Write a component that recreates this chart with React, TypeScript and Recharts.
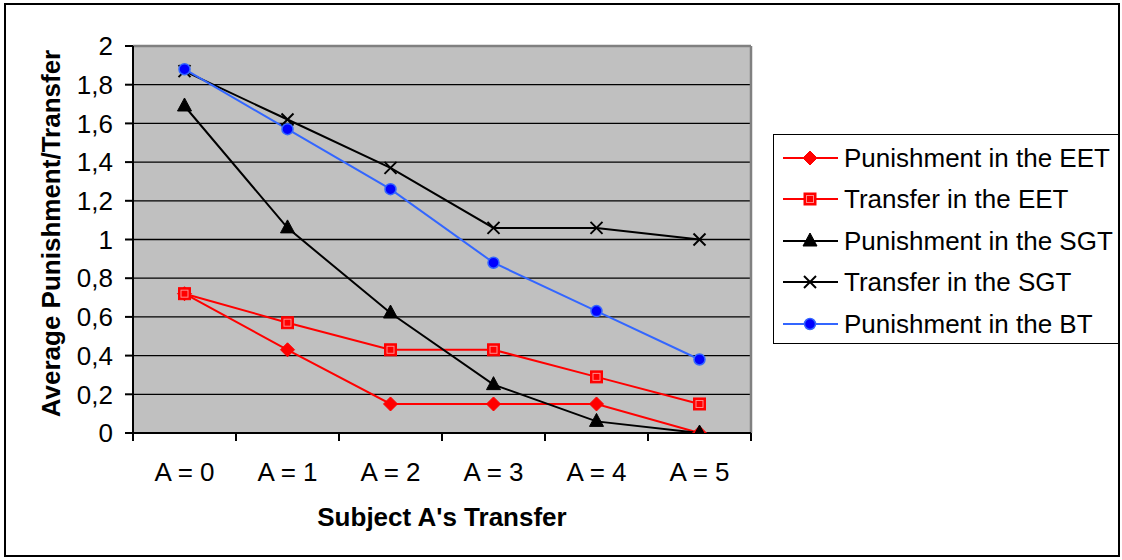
import React from 'react';
import { LineChart, Line, XAxis, YAxis, CartesianGrid, Legend, ReferenceLine, Label } from 'recharts';

const categories = ['A = 0', 'A = 1', 'A = 2', 'A = 3', 'A = 4', 'A = 5'];
const punishmentEET = [0.72, 0.43, 0.15, 0.15, 0.15, 0];
const transferEET = [0.72, 0.57, 0.43, 0.43, 0.29, 0.15];
const punishmentSGT = [1.69, 1.06, 0.62, 0.25, 0.06, 0];
const transferSGT = [1.87, 1.62, 1.37, 1.06, 1.06, 1.0];
const punishmentBT = [1.88, 1.57, 1.26, 0.88, 0.63, 0.38];
const yTicks = [0, 0.2, 0.4, 0.6, 0.8, 1, 1.2, 1.4, 1.6, 1.8, 2];
const edgeTicks = [0, 1, 2, 3, 4, 5, 6];

const series = [
  { key: 'pEET', name: 'Punishment in the EET', values: punishmentEET, color: '#FF0000', marker: 'diamond' },
  { key: 'tEET', name: 'Transfer in the EET', values: transferEET, color: '#FF0000', marker: 'square' },
  { key: 'pSGT', name: 'Punishment in the SGT', values: punishmentSGT, color: '#000000', marker: 'triangle' },
  { key: 'tSGT', name: 'Transfer in the SGT', values: transferSGT, color: '#000000', marker: 'x' },
  { key: 'pBT', name: 'Punishment in the BT', values: punishmentBT, color: '#3366FF', marker: 'circle' },
];

const data = categories.map((cat, i) => {
  const row: Record<string, any> = { cat };
  series.forEach((s) => {
    row[s.key] = s.values[i];
  });
  return row;
});

const categoryIndex = (d: any) => categories.indexOf(d.cat);

const FONT = '"Liberation Sans", Arial, sans-serif';

function Marker({ cx, cy, type }: { cx: number; cy: number; type: string }) {
  if (cx == null || cy == null || isNaN(cx) || isNaN(cy)) return null;
  switch (type) {
    case 'diamond':
      return (
        <polygon
          points={`${cx},${cy - 7} ${cx + 7},${cy} ${cx},${cy + 7} ${cx - 7},${cy}`}
          fill="#FF0000"
          stroke="#FF0000"
          strokeWidth={1}
        />
      );
    case 'square':
      return (
        <g>
          <rect x={cx - 6} y={cy - 6} width={12} height={12} fill="#FF0000" stroke="#FF0000" strokeWidth={1} />
          <rect x={cx - 3.5} y={cy - 3.5} width={7} height={7} fill="none" stroke="#FF8A8A" strokeWidth={1} />
        </g>
      );
    case 'triangle':
      return (
        <polygon
          points={`${cx},${cy - 8} ${cx + 7},${cy + 5} ${cx - 7},${cy + 5}`}
          fill="#000000"
          stroke="#000000"
          strokeWidth={1}
        />
      );
    case 'x':
      return (
        <g stroke="#000000" strokeWidth={2}>
          <line x1={cx - 6} y1={cy - 6} x2={cx + 6} y2={cy + 6} />
          <line x1={cx - 6} y1={cy + 6} x2={cx + 6} y2={cy - 6} />
        </g>
      );
    case 'circle':
      return <circle cx={cx} cy={cy} r={5.5} fill="#0000FF" stroke="#3366FF" strokeWidth={1.5} />;
    default:
      return null;
  }
}

function LegendContent(props: any) {
  const payload = props.payload || [];
  const ordered = series
    .map((s) => ({ s, entry: payload.find((p: any) => p.dataKey === s.key) }))
    .filter((x) => x.entry);
  return (
    <div
      style={{
        border: '1.5px solid #000',
        boxSizing: 'border-box',
        width: 346,
        height: 210,
        paddingTop: 2,
        background: '#fff',
        fontFamily: FONT,
        fontSize: 26,
        color: '#000',
      }}
    >
      {ordered.map(({ s, entry }: any) => (
        <div key={s.key} style={{ display: 'flex', alignItems: 'center', height: 41.5, whiteSpace: 'nowrap' }}>
          <svg width={70} height={24} style={{ flex: 'none' }}>
            <line x1={9} y1={12} x2={64} y2={12} stroke={s.color} strokeWidth={2} />
            <Marker cx={36} cy={12} type={s.marker} />
          </svg>
          <span style={{ lineHeight: '26px' }}>{entry.value}</span>
        </div>
      ))}
    </div>
  );
}

function YTitle(props: any) {
  const vb = props.viewBox || { x: 0, y: 46, width: 133, height: 387 };
  const x = vb.x + 51;
  const y = vb.y + vb.height / 2 - 6;
  return (
    <text
      x={x}
      y={y}
      transform={`rotate(-90, ${x}, ${y})`}
      textAnchor="middle"
      dominantBaseline="central"
      fontFamily={FONT}
      fontWeight="bold"
      fontSize={26}
      fill="#000"
    >
      Average Punishment/Transfer
    </text>
  );
}

export default function App() {
  return (
    <div style={{ position: 'absolute', left: 0, top: 0, width: 1122, height: 560, background: '#fff' }}>
      <LineChart
        width={1122}
        height={560}
        data={data}
        margin={{ top: 46, right: 371, left: 0, bottom: 0 }}
        style={{ fontFamily: FONT }}
      >
        <CartesianGrid vertical={false} fill="#C0C0C0" fillOpacity={1} stroke="#000" strokeWidth={1.3} />
        <XAxis
          xAxisId={0}
          type="number"
          dataKey={categoryIndex}
          domain={[0, 6]}
          ticks={edgeTicks}
          interval={0}
          allowDataOverflow
          height={2}
          tick={{ fontSize: 1, fill: 'none' }}
          tickFormatter={() => ''}
          tickSize={8}
          axisLine={{ stroke: '#000', strokeWidth: 2 }}
          tickLine={{ stroke: '#000', strokeWidth: 2 }}
        />
        <XAxis
          xAxisId="cat"
          dataKey="cat"
          type="category"
          scale="band"
          height={125}
          interval={0}
          axisLine={false}
          tickLine={false}
          tickSize={0}
          tickMargin={28}
          tick={{ fill: '#000', fontSize: 26, fontFamily: FONT }}
        >
          <Label
            value="Subject A's Transfer"
            position="insideBottom"
            offset={34}
            style={{ fill: '#000', fontSize: 26, fontWeight: 'bold', fontFamily: FONT }}
          />
        </XAxis>
        <YAxis
          width={133}
          domain={[0, 2]}
          ticks={yTicks}
          interval={0}
          allowDataOverflow
          tickSize={8}
          tickMargin={12}
          axisLine={{ stroke: '#000', strokeWidth: 2 }}
          tickLine={{ stroke: '#000', strokeWidth: 2 }}
          tick={{ fill: '#000', fontSize: 26, fontFamily: FONT }}
          tickFormatter={(v: number) => String(v).replace('.', ',')}
        >
          <Label content={YTitle} />
        </YAxis>
        <ReferenceLine y={2} stroke="#808080" strokeWidth={2.5} />
        <ReferenceLine x={6} stroke="#808080" strokeWidth={2.5} />
        <Legend
          layout="horizontal"
          verticalAlign="middle"
          align="center"
          content={LegendContent}
          wrapperStyle={{ left: 773, top: 134, width: 346, height: 210 }}
        />
        {series.map((s) => (
          <Line
            key={s.key}
            xAxisId="cat"
            type="linear"
            dataKey={s.key}
            name={s.name}
            stroke={s.color}
            strokeWidth={2}
            isAnimationActive={false}
            dot={(p: any) => <Marker key={`${s.key}-${p.index}`} cx={p.cx} cy={p.cy} type={s.marker} />}
            activeDot={false}
          />
        ))}
      </LineChart>
      <div
        style={{
          position: 'absolute',
          left: 4,
          top: 3,
          width: 1116,
          height: 554,
          border: '2.5px solid #000',
          boxSizing: 'border-box',
          pointerEvents: 'none',
        }}
      />
    </div>
  );
}
